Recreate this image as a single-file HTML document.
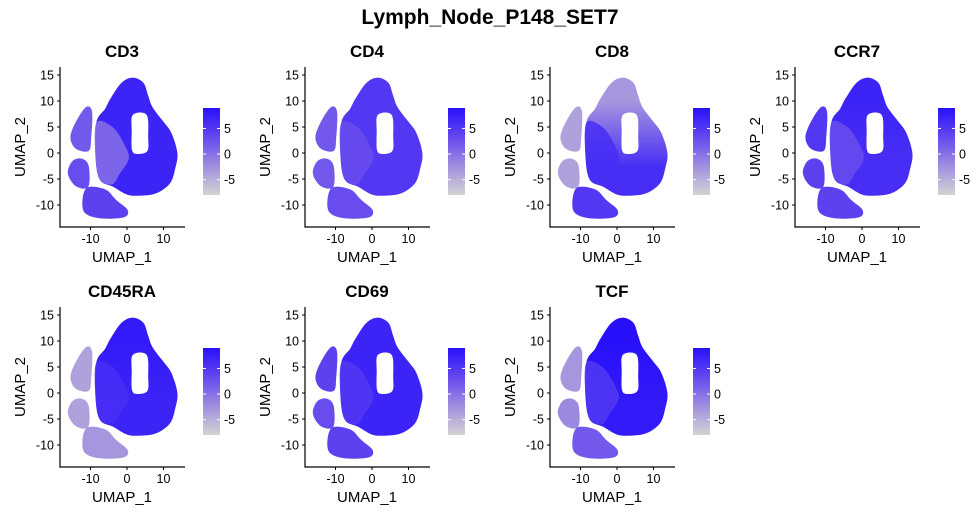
<!DOCTYPE html>
<html><head><meta charset="utf-8"><style>
body{margin:0;background:#fff;}
svg text{font-family:"Liberation Sans",sans-serif;}
</style></head><body>
<svg id="chart" width="980" height="522" viewBox="0 0 980 522" xmlns="http://www.w3.org/2000/svg">
<text x="490" y="24" text-anchor="middle" font-size="21" font-weight="bold">Lymph_Node_P148_SET7</text>
</svg>
<script>
const genes = ["CD3","CD4","CD8","CCR7","CD45RA","CD69","TCF"];
// expression values per region
const mainTopVals = [7, 5, -3, 7, 8, 7, 9];
const mainBotVals = [7, 5, 6, 6, 7, 7, 8];
const midVals = [0, 3, 6, 3, 6, 5, 5];
const clusterAVals = [2, 2, -4, 5, -4, 4, -3];
const clusterBVals = [3, 2, -4, 4, -4, 3, -2];
const clusterCVals = [4, 3, 5, 4, -3, 4, 2];
const xTicks = [-10, 0, 10];
const yTicks = [15, 10, 5, 0, -5, -10];
const cbTicks = [5, 0, -5];
// region outlines in UMAP coordinates
const mainShape = [[1.6,14.5],[4.5,13.5],[5.8,11],[7,8.8],[10,6],[12.2,3.8],[13.8,0],[13.2,-3],[11.8,-5.8],[8.2,-7.7],[4,-8.2],[0,-8],[-3.8,-6.5],[-7.4,-5.2],[-8.6,-1],[-8.4,5.8],[-6,8.5],[-4.5,10.5],[-1.5,13.5]];
const midShape = [[-8.4,5.8],[-4,5],[-1,2],[0.5,-1],[-2,-4],[-4,-6],[-7.4,-5.2],[-8.6,-1]];
const holeShape = [[1.6,7.3],[5.4,7.3],[5.8,3],[5.6,0.4],[3,-0.2],[1.4,0.5],[1.3,4]];
const aShape = [[-11.3,8.8],[-9.6,8],[-9.8,3],[-10.5,0.4],[-14,0.8],[-15.5,3],[-14,6]];
const bShape = [[-12.3,-1.1],[-10.5,-2.5],[-10.6,-6.5],[-14,-6.4],[-16.2,-4],[-15,-1.6]];
const cShape = [[-11.2,-6.8],[-6,-7],[-3,-9],[0.2,-11],[-1,-12.4],[-8,-12.5],[-12,-11]];

const svg = document.getElementById('chart');
const NS = 'http://www.w3.org/2000/svg';
const vmin = -8, vmax = 9;
function mk(tag, attrs, parent){const e=document.createElementNS(NS,tag);for(const k in attrs)e.setAttribute(k,attrs[k]);(parent||svg).appendChild(e);return e;}
function lerp(a,b,t){return a+(b-a)*t;}
const stops=[[211,211,211],[160,142,224],[100,72,238],[40,16,250]];
function color(v){let t=Math.max(0,Math.min(1,(v-vmin)/(vmax-vmin)))*(stops.length-1);const i=Math.min(stops.length-2,Math.floor(t));const f=t-i;const c=stops[i].map((x,j)=>Math.round(lerp(x,stops[i+1][j],f)));return `rgb(${c[0]},${c[1]},${c[2]})`;}
function smooth(P){const n=P.length;let d=`M${P[0][0].toFixed(1)},${P[0][1].toFixed(1)}`;for(let i=0;i<n;i++){const p0=P[(i-1+n)%n],p1=P[i],p2=P[(i+1)%n],p3=P[(i+2)%n];const c1=[p1[0]+(p2[0]-p0[0])/6,p1[1]+(p2[1]-p0[1])/6];const c2=[p2[0]-(p3[0]-p1[0])/6,p2[1]-(p3[1]-p1[1])/6];d+=`C${c1[0].toFixed(1)},${c1[1].toFixed(1)} ${c2[0].toFixed(1)},${c2[1].toFixed(1)} ${p2[0].toFixed(1)},${p2[1].toFixed(1)}`;}return d+'Z';}

genes.forEach((g,gi)=>{
  const col=gi%4,row=Math.floor(gi/4);
  const ox=col*245, oy=row*240;
  const sx=x=>ox+127+x*3.65, sy=y=>oy+153-y*5.2;
  const pth=s=>smooth(s.map(p=>[sx(p[0]),sy(p[1])]));
  const grp=mk('g',{});
  
  
  const gid='grad'+gi;
  const defs=mk('defs',{},grp);
  const lg=mk('linearGradient',{id:gid,x1:0,y1:0,x2:0,y2:1},defs);
  mk('stop',{offset:'0.2','stop-color':color(mainTopVals[gi])},lg);
  mk('stop',{offset:'0.75','stop-color':color(mainBotVals[gi])},lg);
  const m=mk('path',{d:pth(mainShape),fill:`url(#${gid})`},grp);
  
  
  const md=mk('path',{d:pth(midShape),fill:color(midVals[gi]),opacity:0.85},grp);
  
  
  const h=mk('path',{d:pth(holeShape),fill:'#fff'},grp);
  
  
  [[aShape,clusterAVals],[bShape,clusterBVals],[cShape,clusterCVals]].forEach((c,ci)=>{
    const p=mk('path',{d:pth(c[0]),fill:color(c[1][gi])},grp);
    
    
  });
  const ax=mk('path',{d:`M${ox+60},${oy+67}V${oy+227}H${ox+185}`,stroke:'#000','stroke-width':1.2,fill:'none'},grp);
  
  
  yTicks.forEach(t=>{
    mk('line',{x1:ox+57,x2:ox+60,y1:sy(t),y2:sy(t),stroke:'#000'},grp);
    const tx=mk('text',{x:ox+54,y:sy(t)+4.5,'text-anchor':'end','font-size':12.5},grp);
    tx.textContent=t;
    
    
  });
  xTicks.forEach(t=>{
    mk('line',{x1:sx(t),x2:sx(t),y1:oy+227,y2:oy+230,stroke:'#000'},grp);
    const tx=mk('text',{x:sx(t),y:oy+243,'text-anchor':'middle','font-size':12.5},grp);
    tx.textContent=t;
    
    
  });
  const tt=mk('text',{x:ox+122,y:oy+57,'text-anchor':'middle','font-size':17,'font-weight':'bold'},grp);
  tt.textContent=g;
  
  
  const xl=mk('text',{x:ox+122,y:oy+262,'text-anchor':'middle','font-size':15},grp);
  xl.textContent='UMAP_1';
  
  
  const yl=mk('text',{x:0,y:0,'text-anchor':'middle','font-size':15,transform:`translate(${ox+25},${oy+147}) rotate(-90)`},grp);
  yl.textContent='UMAP_2';
  
  
  const cid='cb'+gi;
  const lg2=mk('linearGradient',{id:cid,x1:0,y1:1,x2:0,y2:0},defs);
  for(let k=0;k<=6;k++){mk('stop',{offset:k/6,'stop-color':color(vmin+(vmax-vmin)*k/6)},lg2);}
  const cb=mk('rect',{x:ox+203,y:oy+108,width:17,height:87,fill:`url(#${cid})`},grp);
  
  
  const cy=v=>oy+195-(v-vmin)/(vmax-vmin)*87;
  cbTicks.forEach(t=>{
    mk('line',{x1:ox+203,x2:ox+206,y1:cy(t),y2:cy(t),stroke:'#fff'},grp);
    mk('line',{x1:ox+217,x2:ox+220,y1:cy(t),y2:cy(t),stroke:'#fff'},grp);
    const tx=mk('text',{x:ox+224,y:cy(t)+4.5,'font-size':12.5},grp);
    tx.textContent=t;
    
    
  });
});
</script>
</body></html>
